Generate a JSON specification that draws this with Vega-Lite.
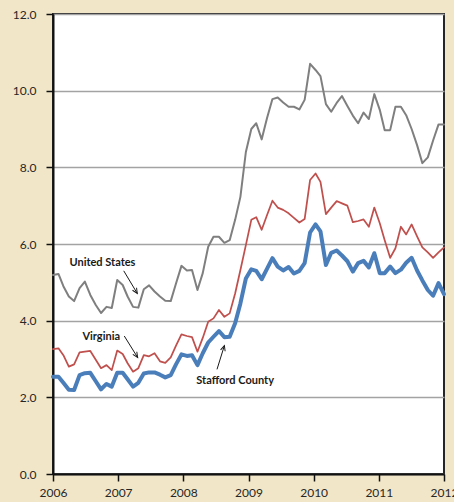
{
  "$schema": "https://vega.github.io/schema/vega-lite/v6.json",
  "width": 391,
  "height": 460,
  "autosize": {"type": "none"},
  "padding": {"left": 53, "top": 14, "right": 10, "bottom": 28},
  "background": "#f2e6c8",
  "config": {
    "view": {"stroke": "#262626", "strokeWidth": 2, "fill": "white"},
    "font": "Lato",
    "axis": {
      "labelFont": "Lato",
      "labelFontSize": 12,
      "labelColor": "#262626",
      "domainColor": "#111111",
      "domainWidth": 2,
      "tickColor": "#111111",
      "tickWidth": 1.5,
      "tickSize": 7
    }
  },
  "datasets": {
    "rates": [
      {"month": "2006-01-01", "United States": 5.19, "Virginia": 3.26, "Stafford County": 2.54},
      {"month": "2006-02-01", "United States": 5.22, "Virginia": 3.28, "Stafford County": 2.54},
      {"month": "2006-03-01", "United States": 4.9, "Virginia": 3.1, "Stafford County": 2.38},
      {"month": "2006-04-01", "United States": 4.63, "Virginia": 2.8, "Stafford County": 2.2},
      {"month": "2006-05-01", "United States": 4.51, "Virginia": 2.86, "Stafford County": 2.19},
      {"month": "2006-06-01", "United States": 4.85, "Virginia": 3.17, "Stafford County": 2.58},
      {"month": "2006-07-01", "United States": 5.02, "Virginia": 3.19, "Stafford County": 2.63},
      {"month": "2006-08-01", "United States": 4.67, "Virginia": 3.21, "Stafford County": 2.64},
      {"month": "2006-09-01", "United States": 4.41, "Virginia": 2.98, "Stafford County": 2.42},
      {"month": "2006-10-01", "United States": 4.2, "Virginia": 2.76, "Stafford County": 2.21},
      {"month": "2006-11-01", "United States": 4.36, "Virginia": 2.84, "Stafford County": 2.35},
      {"month": "2006-12-01", "United States": 4.33, "Virginia": 2.71, "Stafford County": 2.28},
      {"month": "2007-01-01", "United States": 5.06, "Virginia": 3.22, "Stafford County": 2.64},
      {"month": "2007-02-01", "United States": 4.93, "Virginia": 3.13, "Stafford County": 2.64},
      {"month": "2007-03-01", "United States": 4.63, "Virginia": 2.89, "Stafford County": 2.47},
      {"month": "2007-04-01", "United States": 4.36, "Virginia": 2.67, "Stafford County": 2.28},
      {"month": "2007-05-01", "United States": 4.34, "Virginia": 2.76, "Stafford County": 2.38},
      {"month": "2007-06-01", "United States": 4.82, "Virginia": 3.1, "Stafford County": 2.62},
      {"month": "2007-07-01", "United States": 4.92, "Virginia": 3.07, "Stafford County": 2.65},
      {"month": "2007-08-01", "United States": 4.76, "Virginia": 3.15, "Stafford County": 2.65},
      {"month": "2007-09-01", "United States": 4.63, "Virginia": 2.94, "Stafford County": 2.59},
      {"month": "2007-10-01", "United States": 4.52, "Virginia": 2.9, "Stafford County": 2.52},
      {"month": "2007-11-01", "United States": 4.51, "Virginia": 3.04, "Stafford County": 2.58},
      {"month": "2007-12-01", "United States": 4.97, "Virginia": 3.35, "Stafford County": 2.86},
      {"month": "2008-01-01", "United States": 5.43, "Virginia": 3.64, "Stafford County": 3.12},
      {"month": "2008-02-01", "United States": 5.31, "Virginia": 3.6, "Stafford County": 3.08},
      {"month": "2008-03-01", "United States": 5.32, "Virginia": 3.57, "Stafford County": 3.1},
      {"month": "2008-04-01", "United States": 4.8, "Virginia": 3.19, "Stafford County": 2.84},
      {"month": "2008-05-01", "United States": 5.24, "Virginia": 3.55, "Stafford County": 3.15},
      {"month": "2008-06-01", "United States": 5.93, "Virginia": 3.97, "Stafford County": 3.43},
      {"month": "2008-07-01", "United States": 6.19, "Virginia": 4.06, "Stafford County": 3.58},
      {"month": "2008-08-01", "United States": 6.19, "Virginia": 4.28, "Stafford County": 3.73},
      {"month": "2008-09-01", "United States": 6.03, "Virginia": 4.1, "Stafford County": 3.57},
      {"month": "2008-10-01", "United States": 6.1, "Virginia": 4.19, "Stafford County": 3.58},
      {"month": "2008-11-01", "United States": 6.63, "Virginia": 4.71, "Stafford County": 3.93},
      {"month": "2008-12-01", "United States": 7.23, "Virginia": 5.32, "Stafford County": 4.45},
      {"month": "2009-01-01", "United States": 8.4, "Virginia": 5.97, "Stafford County": 5.1},
      {"month": "2009-02-01", "United States": 9.0, "Virginia": 6.63, "Stafford County": 5.34},
      {"month": "2009-03-01", "United States": 9.15, "Virginia": 6.7, "Stafford County": 5.3},
      {"month": "2009-04-01", "United States": 8.73, "Virginia": 6.37, "Stafford County": 5.08},
      {"month": "2009-05-01", "United States": 9.28, "Virginia": 6.75, "Stafford County": 5.35},
      {"month": "2009-06-01", "United States": 9.78, "Virginia": 7.13, "Stafford County": 5.63},
      {"month": "2009-07-01", "United States": 9.82, "Virginia": 6.95, "Stafford County": 5.41},
      {"month": "2009-08-01", "United States": 9.69, "Virginia": 6.89, "Stafford County": 5.31},
      {"month": "2009-09-01", "United States": 9.58, "Virginia": 6.8, "Stafford County": 5.4},
      {"month": "2009-10-01", "United States": 9.58, "Virginia": 6.68, "Stafford County": 5.23},
      {"month": "2009-11-01", "United States": 9.51, "Virginia": 6.56, "Stafford County": 5.3},
      {"month": "2009-12-01", "United States": 9.76, "Virginia": 6.65, "Stafford County": 5.5},
      {"month": "2010-01-01", "United States": 10.7, "Virginia": 7.67, "Stafford County": 6.3},
      {"month": "2010-02-01", "United States": 10.54, "Virginia": 7.84, "Stafford County": 6.51},
      {"month": "2010-03-01", "United States": 10.38, "Virginia": 7.62, "Stafford County": 6.33},
      {"month": "2010-04-01", "United States": 9.65, "Virginia": 6.78, "Stafford County": 5.45},
      {"month": "2010-05-01", "United States": 9.45, "Virginia": 6.95, "Stafford County": 5.77},
      {"month": "2010-06-01", "United States": 9.68, "Virginia": 7.12, "Stafford County": 5.83},
      {"month": "2010-07-01", "United States": 9.86, "Virginia": 7.06, "Stafford County": 5.7},
      {"month": "2010-08-01", "United States": 9.6, "Virginia": 7.0, "Stafford County": 5.55},
      {"month": "2010-09-01", "United States": 9.35, "Virginia": 6.57, "Stafford County": 5.28},
      {"month": "2010-10-01", "United States": 9.15, "Virginia": 6.6, "Stafford County": 5.5},
      {"month": "2010-11-01", "United States": 9.43, "Virginia": 6.64, "Stafford County": 5.56},
      {"month": "2010-12-01", "United States": 9.26, "Virginia": 6.45, "Stafford County": 5.39},
      {"month": "2011-01-01", "United States": 9.91, "Virginia": 6.95, "Stafford County": 5.76},
      {"month": "2011-02-01", "United States": 9.5, "Virginia": 6.54, "Stafford County": 5.24},
      {"month": "2011-03-01", "United States": 8.97, "Virginia": 6.1, "Stafford County": 5.24},
      {"month": "2011-04-01", "United States": 8.97, "Virginia": 5.64, "Stafford County": 5.41},
      {"month": "2011-05-01", "United States": 9.58, "Virginia": 5.89, "Stafford County": 5.24},
      {"month": "2011-06-01", "United States": 9.58, "Virginia": 6.45, "Stafford County": 5.33},
      {"month": "2011-07-01", "United States": 9.36, "Virginia": 6.25, "Stafford County": 5.51},
      {"month": "2011-08-01", "United States": 9.0, "Virginia": 6.51, "Stafford County": 5.64},
      {"month": "2011-09-01", "United States": 8.58, "Virginia": 6.2, "Stafford County": 5.31},
      {"month": "2011-10-01", "United States": 8.11, "Virginia": 5.91, "Stafford County": 5.05},
      {"month": "2011-11-01", "United States": 8.26, "Virginia": 5.78, "Stafford County": 4.8},
      {"month": "2011-12-01", "United States": 8.7, "Virginia": 5.64, "Stafford County": 4.65},
      {"month": "2012-01-01", "United States": 9.12, "Virginia": 5.78, "Stafford County": 4.98},
      {"month": "2012-02-01", "United States": 9.12, "Virginia": 5.91, "Stafford County": 4.69}
    ],
    "labels": [
      {"label": "United States", "month": "2006-10-09", "rate": 5.5},
      {"label": "Virginia", "month": "2006-10-02", "rate": 3.58},
      {"label": "Stafford County", "month": "2008-11-01", "rate": 2.43}
    ],
    "arrows": [
      {"label": "United States", "month": "2007-02-07", "rate": 5.3, "month2": "2007-04-25", "rate2": 4.71, "angle": 148},
      {"label": "Virginia", "month": "2007-02-10", "rate": 3.6, "month2": "2007-04-27", "rate2": 3.04, "angle": 147},
      {"label": "Stafford County", "month": "2008-07-21", "rate": 2.73, "month2": "2008-09-01", "rate2": 3.35, "angle": 17}
    ],
    "years": [
      {"year": 2006}, {"year": 2007}, {"year": 2008}, {"year": 2009},
      {"year": 2010}, {"year": 2011}, {"year": 2012}
    ]
  },
  "layer": [
    {
      "data": {"name": "rates"},
      "transform": [
        {"fold": ["United States", "Virginia", "Stafford County"], "as": ["area", "rate"]}
      ],
      "encoding": {
        "x": {"field": "month", "type": "temporal", "scale": {"domain": ["2006-01-01", "2012-02-01"]}, "axis": null},
        "y": {
          "field": "rate", "type": "quantitative",
          "scale": {"domain": [0, 12], "nice": false},
          "axis": {"values": [0, 2, 4, 6, 8, 10, 12], "format": ".1f", "title": null, "grid": true, "gridColor": "#a3a3a3", "gridWidth": 1.5, "labelPadding": 10}
        }
      },
      "layer": [
        {
          "transform": [{"filter": "datum.area === 'United States'"}],
          "mark": {"type": "line", "strokeJoin": "round", "strokeCap": "round", "color": "#7f7f7f", "strokeWidth": 2}
        },
        {
          "transform": [{"filter": "datum.area === 'Virginia'"}],
          "mark": {"type": "line", "strokeJoin": "round", "strokeCap": "round", "color": "#c0504d", "strokeWidth": 1.75}
        },
        {
          "transform": [{"filter": "datum.area === 'Stafford County'"}],
          "mark": {"type": "line", "strokeJoin": "round", "strokeCap": "round", "color": "#4a7ebb", "strokeWidth": 4}
        },
        {
          "data": {"name": "labels"},
          "transform": [],
          "mark": {"type": "text", "font": "Lato", "fontWeight": "bold", "fontSize": 11, "color": "#1a1a1a", "align": "center", "baseline": "middle"},
          "encoding": {
            "text": {"field": "label"}
          }
        },
        {
          "data": {"name": "arrows"},
          "mark": {"type": "rule", "color": "#1a1a1a", "strokeWidth": 1},
          "encoding": {
            "x2": {"field": "month2"},
            "y2": {"field": "rate2"}
          }
        },
        {
          "data": {"name": "arrows"},
          "mark": {"type": "point", "shape": "M-0.5,1.1L0,0L0.5,1.1", "filled": false, "color": "#1a1a1a", "strokeWidth": 1, "size": 90, "opacity": 1},
          "encoding": {
            "x": {"field": "month2", "type": "temporal"},
            "y": {"field": "rate2", "type": "quantitative"},
            "angle": {"field": "angle", "type": "quantitative", "scale": null}
          }
        }
      ]
    },
    {
      "data": {"name": "years"},
      "mark": {"type": "point", "opacity": 0},
      "encoding": {
        "x": {
          "field": "year", "type": "quantitative",
          "scale": {"domain": [2006, 2012], "nice": false, "zero": false},
          "axis": {"orient": "bottom", "values": [2006, 2007, 2008, 2009, 2010, 2011, 2012], "format": "d", "title": null, "grid": false, "labelPadding": 6, "labelFlush": false, "labelOverlap": false}
        }
      }
    }
  ],
  "resolve": {"scale": {"x": "independent"}}
}
